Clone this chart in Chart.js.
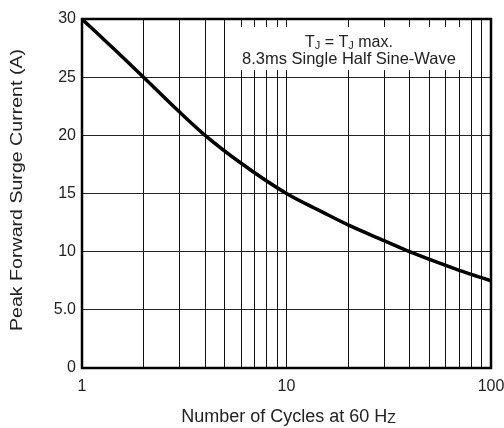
<!DOCTYPE html>
<html lang="en">
<head>
    <meta charset="UTF-8">
    <title>Peak Forward Surge Current</title>
    <script src="https://cdn.jsdelivr.net/npm/chart.js"></script>
    <style>
        body {
            margin: 0;
            background-color: #ffffff;
        }
        #surgeChart {
            display: block;
        }
    </style>
</head>
<body>
    <canvas id="surgeChart" width="504" height="428"></canvas>

    <script>
        // Curve values
        const cycles = [1, 1.5, 2, 3, 4, 6, 10, 15, 20, 30, 40, 70, 100];
        const surgeCurrent = [30, 27.1, 25, 22.0, 20, 17.6, 15, 13.4, 12.3, 10.95, 10, 8.4, 7.5];

        // Axis ticks
        const xGridTicks = [1, 2, 3, 4, 5, 6, 7, 8, 9, 10, 20, 30, 40, 50, 60, 70, 80, 90, 100];
        const xLabelTicks = [1, 10, 100];
        const yTickValues = [0, 5, 10, 15, 20, 25, 30];
        const yTickLabels = ['0', '5.0', '10', '15', '20', '25', '30'];

        // Note text
        const noteLine2 = '8.3ms Single Half Sine-Wave';

        const textColor = '#222';
        const fontFamily = '"Liberation Sans", Arial, sans-serif';

        // Draws a string made of [text, isSub] pieces, centred on x
        const drawPieces = (ctx, pieces, cx, y, size, subSize, subDrop) => {
            let total = 0;
            pieces.forEach(p => {
                ctx.font = (p[1] ? subSize : size) + 'px ' + fontFamily;
                total += ctx.measureText(p[0]).width;
            });
            let x = cx - total / 2;
            ctx.textAlign = 'left';
            pieces.forEach(p => {
                ctx.font = (p[1] ? subSize : size) + 'px ' + fontFamily;
                ctx.fillText(p[0], x, p[1] ? y + subDrop : y);
                x += ctx.measureText(p[0]).width;
            });
        };

        const decorations = {
            id: 'decorations',
            beforeDatasetsDraw(chart) {
                const ctx = chart.ctx;
                const xs = chart.scales.x;
                const ys = chart.scales.y;
                // white box behind the note
                const left = xs.getPixelForValue(5.93);
                const right = xs.getPixelForValue(76.3);
                const top = ys.getPixelForValue(29.3);
                const bottom = ys.getPixelForValue(25.6);
                ctx.save();
                ctx.fillStyle = '#ffffff';
                ctx.fillRect(left, top, right - left, bottom - top);
                ctx.fillStyle = textColor;
                ctx.textBaseline = 'middle';
                const cx = xs.getPixelForValue(20.2);
                drawPieces(ctx, [['T', false], ['J', true], [' = T', false], ['J', true], [' max.', false]],
                    cx, ys.getPixelForValue(28.0), 16, 11, 4);
                ctx.font = '16.5px ' + fontFamily;
                ctx.textAlign = 'center';
                ctx.fillText(noteLine2, cx, ys.getPixelForValue(26.5));
                ctx.restore();
            },
            afterDatasetsDraw(chart) {
                const ctx = chart.ctx;
                const a = chart.chartArea;
                ctx.save();
                ctx.strokeStyle = '#000';
                ctx.lineWidth = 2.5;
                ctx.strokeRect(a.left, a.top, a.right - a.left, a.bottom - a.top);

                // axis titles
                ctx.fillStyle = textColor;
                ctx.textBaseline = 'middle';
                const midX = (a.left + a.right) / 2;
                drawPieces(ctx, [['Number of Cycles at 60 H', false], ['Z', true]], midX + 2, 417, 18, 14, 2);

                const title = 'Peak Forward Surge Current (A)';
                ctx.font = '16px ' + fontFamily;
                const w = ctx.measureText(title).width;
                ctx.translate(18, 190);
                ctx.rotate(-Math.PI / 2);
                ctx.scale(282 / w, 1);
                ctx.textAlign = 'center';
                ctx.fillText(title, 0, 0);
                ctx.restore();
            }
        };

        const ctx = document.getElementById('surgeChart').getContext('2d');
        new Chart(ctx, {
            type: 'line',
            data: {
                datasets: [{
                    data: cycles.map((c, i) => ({ x: c, y: surgeCurrent[i] })),
                    borderColor: '#000',
                    borderWidth: 3.5,
                    pointRadius: 0,
                    fill: false,
                    cubicInterpolationMode: 'monotone'
                }]
            },
            options: {
                responsive: false,
                animation: false,
                events: [],
                layout: { padding: { top: 19, right: 13, left: 0, bottom: 0 } },
                plugins: {
                    legend: { display: false },
                    tooltip: { enabled: false }
                },
                scales: {
                    x: {
                        type: 'logarithmic',
                        min: 1,
                        max: 100,
                        afterBuildTicks: (scale) => {
                            scale.ticks = xGridTicks.map(v => ({ value: v }));
                        },
                        afterFit: (scale) => {
                            scale.height = 60;
                            scale.paddingLeft = 0;
                            scale.paddingRight = 0;
                        },
                        grid: { color: '#111', lineWidth: 1, drawTicks: false },
                        border: { display: false },
                        ticks: {
                            autoSkip: false,
                            maxRotation: 0,
                            padding: 9,
                            color: textColor,
                            font: { family: fontFamily, size: 16 },
                            callback: (v) => xLabelTicks.includes(v) ? String(v) : ''
                        }
                    },
                    y: {
                        min: 0,
                        max: 30,
                        afterBuildTicks: (scale) => {
                            scale.ticks = yTickValues.map(v => ({ value: v }));
                        },
                        afterFit: (scale) => {
                            scale.width = 82;
                            scale.paddingTop = 0;
                            scale.paddingBottom = 0;
                        },
                        grid: { color: '#222', lineWidth: 1, drawTicks: false },
                        border: { display: false },
                        ticks: {
                            padding: 6,
                            color: textColor,
                            font: { family: fontFamily, size: 16 },
                            callback: (v) => yTickLabels[yTickValues.indexOf(v)]
                        }
                    }
                }
            },
            plugins: [decorations]
        });
    </script>
</body>
</html>
